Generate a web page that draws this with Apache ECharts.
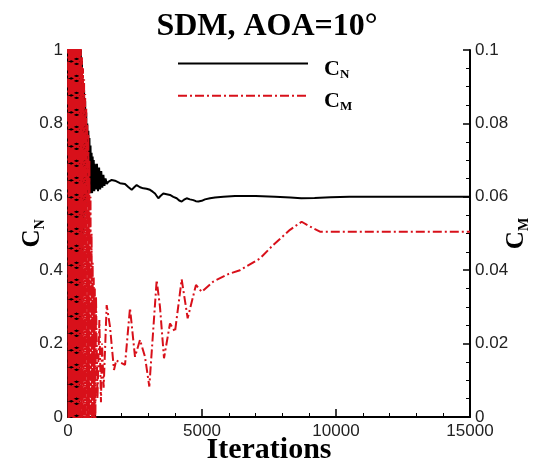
<!DOCTYPE html>
<html>
<head>
<meta charset="utf-8">
<script src="https://cdn.jsdelivr.net/npm/echarts@6/dist/echarts.min.js"></script>
<style>html,body{margin:0;padding:0;background:#fff}#c{width:534px;height:463px}</style>
</head>
<body>
<div id="c"></div>
<script>
// ---- Data ----
var titleText = 'SDM, AOA=10°';
var xTicks = [0, 5000, 10000, 15000];
var cnTicks = [0, 0.2, 0.4, 0.6, 0.8, 1];
var cmTicks = [0, 0.02, 0.04, 0.06, 0.08, 0.1];

// C_N (left axis): iterations and values
var iterN = [0,20,40,60,80,100,120,140,160,180,200,220,240,260,280,300,320,340,360,380,400,420,440,460,480,500,520,540,560,580,600,620,640,660,680,700,720,740,760,780,800,820,840,860,880,900,920,940,960,980,1000,
  1040,1080,1120,1160,1200,1240,1280,1320,1360,1400,1450,1505,1630,1753,1940,2127,2250,2376,2470,2562,2690,2810,2930,3059,3160,3246,3370,3460,3556,3680,3806,3930,4055,4150,4242,4330,4428,4550,4676,4770,4863,4990,5111,5300,5484,5800,6231,7000,7723,8300,8700,9200,9800,10500,12000,15000];
var cn = [1.0,0.0,1.0,0.0,1.0,0.0,1.0,0.0,1.0,0.0,1.0,0.0,1.0,0.0,1.0,0.0,1.0,0.0,1.0,0.0,1.0,0.0,1.0,0.15,1.0,0.3,0.97,0.42,0.92,0.5,0.89,0.55,0.86,0.58,0.83,0.6,0.80,0.6,0.78,0.61,0.76,0.61,0.74,0.61,0.72,0.61,0.71,0.615,0.70,0.615,0.69,
  0.62,0.69,0.615,0.68,0.62,0.67,0.625,0.66,0.63,0.65,0.635,0.641,0.646,0.644,0.637,0.635,0.627,0.619,0.626,0.632,0.626,0.623,0.622,0.619,0.614,0.609,0.596,0.603,0.609,0.607,0.605,0.600,0.596,0.590,0.587,0.592,0.596,0.593,0.591,0.588,0.587,0.589,0.593,0.596,0.598,0.600,0.602,0.602,0.600,0.598,0.596,0.597,0.599,0.600,0.600,0.600];

// C_M (right axis): iterations and values
var iterM = [0,20,40,60,80,100,120,140,160,180,200,220,240,260,280,300,320,340,360,380,400,420,440,460,480,500,520,540,560,580,600,620,640,660,680,700,720,740,760,780,800,820,840,860,880,900,920,940,960,980,1000,1020,
  1045,1100,1170,1230,1270,1330,1443,1567,1716,1800,1877,2000,2127,2313,2500,2686,2873,3034,3309,3432,3582,3806,3992,4242,4465,4776,4987,5422,6000,6417,7164,7660,8283,8718,9030,9403,10000,15000];
var cm = [0.12,-0.005,0.12,-0.005,0.12,-0.005,0.12,-0.005,0.12,-0.005,0.12,-0.005,0.12,-0.005,0.12,-0.005,0.12,-0.005,0.12,-0.005,0.12,-0.005,0.12,-0.005,0.105,-0.005,0.098,-0.005,0.095,-0.005,0.092,-0.005,0.088,-0.005,0.084,-0.005,0.08,-0.005,0.077,-0.005,0.07,-0.005,0.06,-0.005,0.05,-0.005,0.042,-0.005,0.038,-0.005,0.035,-0.005,
  0.0328,0.005,0.0264,0.004,0.020,0.008,0.0305,0.0246,0.0128,0.0155,0.0151,0.0147,0.0142,0.0297,0.0164,0.021,0.0164,0.0083,0.0373,0.030,0.016,0.0255,0.0232,0.0375,0.0269,0.036,0.0341,0.0369,0.039,0.040,0.0432,0.0469,0.051,0.0532,0.0519,0.0505,0.0505,0.0505];

function zip(a, b) { var r = []; for (var i = 0; i < a.length; i++) r.push([a[i], b[i]]); return r; }

var serif = '"Liberation Serif", "Times New Roman", serif';
var sans = '"Liberation Sans", Arial, sans-serif';
var subRich = {
  b: { fontFamily: serif, fontWeight: 'bold', fontSize: 22, color: '#000', lineHeight: 24 },
  s: { fontFamily: serif, fontWeight: 'bold', fontSize: 13, color: '#000', lineHeight: 24, padding: [10, 0, 0, 0] }
};
var nameRich = {
  b: { fontFamily: serif, fontWeight: 'bold', fontSize: 25, color: '#000', lineHeight: 28 },
  s: { fontFamily: serif, fontWeight: 'bold', fontSize: 14, color: '#000', lineHeight: 28, padding: [15, 0, 0, 0] }
};

var chart = echarts.init(document.getElementById('c'), null, { renderer: 'canvas' });
chart.setOption({
  animation: false,
  backgroundColor: '#fff',
  title: {
    text: titleText, left: 'center', top: 6,
    textStyle: { fontFamily: serif, fontWeight: 'bold', fontSize: 32, color: '#000' }
  },
  legend: {
    orient: 'vertical', left: 177, top: 58, padding: 0, itemWidth: 130, itemHeight: 14, itemGap: 9,
    data: ['CN', 'CM'],
    itemStyle: { opacity: 0 },
    formatter: function (n) { return '{b|C}{s|' + n.charAt(1) + '}'; },
    textStyle: { rich: subRich, padding: [12, 0, 0, 11] }
  },
  grid: { left: 68, right: 64, top: 50, bottom: 46, containLabel: false, outerBoundsMode: 'none' },
  xAxis: {
    type: 'value', min: xTicks[0], max: xTicks[xTicks.length - 1], interval: 5000,
    name: 'Iterations', nameLocation: 'middle', nameGap: 18, nameMoveOverlap: false,
    nameTextStyle: { fontFamily: serif, fontWeight: 'bold', fontSize: 30, color: '#000' },
    axisLine: { lineStyle: { color: '#000', width: 2 } },
    axisTick: { inside: true, length: 8, lineStyle: { color: '#000', width: 1.5 } },
    minorTick: { show: true, splitNumber: 5, length: 4, lineStyle: { color: '#000', width: 1 } },
    axisLabel: { fontFamily: sans, fontSize: 17, color: '#222', margin: 6, formatter: function (v) { return String(v); } },
    splitLine: { show: false }
  },
  yAxis: [{
    type: 'value', min: cnTicks[0], max: cnTicks[cnTicks.length - 1], interval: 0.2, position: 'left',
    name: '{b|C}{s|N}', nameLocation: 'middle', nameGap: 21, nameRotate: 90, nameMoveOverlap: false,
    nameTextStyle: { rich: nameRich },
    axisLine: { show: true, lineStyle: { color: '#000', width: 2 } },
    axisTick: { inside: true, length: 7, lineStyle: { color: '#000', width: 1.5 } },
    axisLabel: { fontFamily: sans, fontSize: 17, color: '#222', margin: 5 },
    splitLine: { show: false }
  }, {
    type: 'value', min: cmTicks[0], max: cmTicks[cmTicks.length - 1], interval: 0.02, position: 'right',
    name: '{b|C}{s|M}', nameLocation: 'middle', nameGap: 33, nameRotate: 90, nameMoveOverlap: false,
    nameTextStyle: { rich: nameRich },
    axisLine: { show: true, lineStyle: { color: '#000', width: 2 } },
    axisTick: { inside: true, length: 7, lineStyle: { color: '#000', width: 1.5 } },
    minorTick: { show: true, splitNumber: 4, length: 4, lineStyle: { color: '#000', width: 1 } },
    axisLabel: { fontFamily: sans, fontSize: 17, color: '#222', margin: 5 },
    splitLine: { show: false }
  }],
  series: [{
    name: 'CN', type: 'line', yAxisIndex: 0, data: zip(iterN, cn),
    symbol: 'none', clip: true, lineStyle: { color: '#000', width: 2 }, itemStyle: { color: '#000' }
  }, {
    name: 'CM', type: 'line', yAxisIndex: 1, data: zip(iterM, cm),
    symbol: 'none', clip: true, lineStyle: { color: '#d8101a', width: 2, type: [9, 3, 2, 3] }, itemStyle: { color: '#d8101a' }
  }]
});
</script>
</body>
</html>
